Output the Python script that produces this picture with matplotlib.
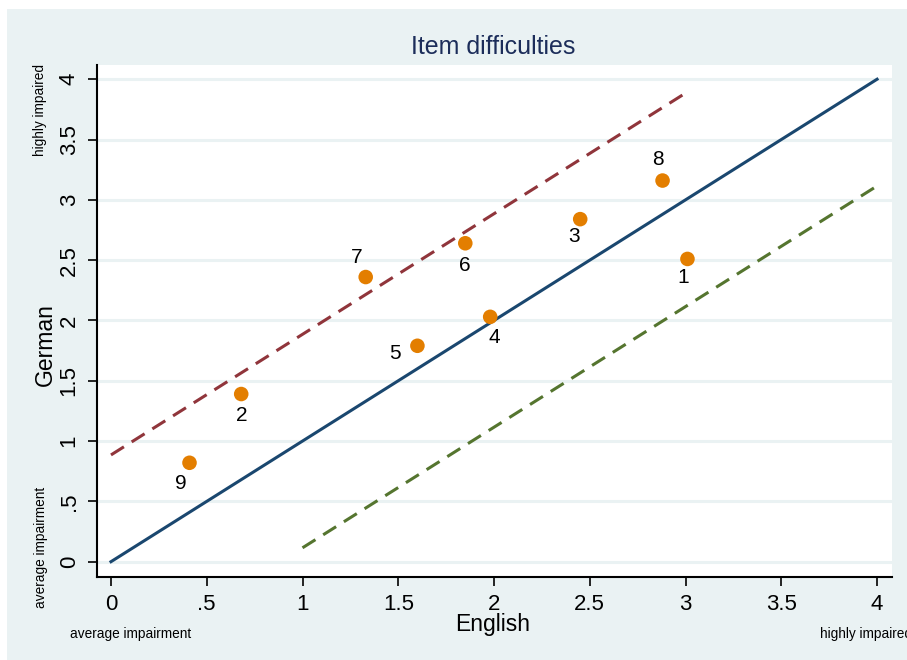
import numpy as np
import matplotlib.pyplot as plt
from matplotlib.patches import Rectangle

# Item difficulties: English vs German estimates
items = ["1", "2", "3", "4", "5", "6", "7", "8", "9"]
english = [3.01, 0.68, 2.45, 1.98, 1.60, 1.85, 1.33, 2.88, 0.41]
german = [2.51, 1.39, 2.84, 2.03, 1.79, 2.64, 2.36, 3.16, 0.82]

# identity line and +/- band
band = 0.885
diag_x = [0, 4]
upper_x = [0, 3]
lower_x = [1, 4]

ticks = np.arange(0, 4.01, 0.5)
tick_labels = ["0", ".5", "1", "1.5", "2", "2.5", "3", "3.5", "4"]

# label offsets (pixels) for each item marker
label_offsets = {
    "1": (-4, -19), "2": (1, -21), "3": (-6, -17), "4": (4, -21),
    "5": (-22, -8), "6": (0, -22), "7": (-9, 20), "8": (-5, 21),
    "9": (-9, -21),
}

plt.rcParams['font.family'] = ['Liberation Sans', 'DejaVu Sans']

W, H = 907, 660
fig = plt.figure(figsize=(W / 100, H / 100), dpi=100, facecolor='white')
bg = '#eaf2f3'
fig.add_artist(Rectangle((7 / W, 0), 1, 1 - 9 / H, transform=fig.transFigure,
                         facecolor=bg, edgecolor='none', zorder=-5))

ax = fig.add_axes([97 / W, 1 - 577 / H, (892 - 97) / W, (577 - 65) / H])
ax.set_zorder(1)
ax.set_facecolor('white')
ax.set_xlim(-0.073, 4.078)
ax.set_ylim(-0.127, 4.118)

for s in ['top', 'right']:
    ax.spines[s].set_visible(False)
for s in ['left', 'bottom']:
    ax.spines[s].set_color('black')
    ax.spines[s].set_linewidth(1.5)

ax.set_yticks(ticks)
ax.set_yticklabels(tick_labels, rotation=90, va='center', fontsize=16)
ax.set_xticks(ticks)
ax.set_xticklabels(tick_labels, fontsize=16)
ax.tick_params(axis='both', length=6.5, width=1.2, pad=6)
ax.yaxis.grid(True, color=bg, linewidth=2.2)
ax.set_axisbelow(True)

ax.plot(diag_x, diag_x, color='#1a476f', linewidth=2.2, zorder=2)
ax.plot(upper_x, [v + band for v in upper_x], color='#90353b', linewidth=2.2,
        linestyle=(0, (5, 3)), zorder=2)
ax.plot(lower_x, [v - band for v in lower_x], color='#55752f', linewidth=2.2,
        linestyle=(0, (5, 3)), zorder=2)

ax.scatter(english, german, s=110, color='#e37e00', edgecolors='none', zorder=3)
for lab, x, y in zip(items, english, german):
    dx, dy = label_offsets[lab]
    ax.annotate(lab, (x, y), xytext=(dx, dy), textcoords='offset pixels',
                ha='center', va='center', fontsize=15, color='black')

fig.text(493 / W, 1 - 47 / H, "Item difficulties", ha='center', va='center',
         fontsize=18, color='#1c2d5a')
fig.text(45 / W, 1 - 345 / H, "German", rotation=90, ha='center', va='center',
         fontsize=16.5)
fig.text(493 / W, 1 - 625 / H, "English", ha='center', va='center', fontsize=16.5)

# annotations for the ends of the scale
fig.text(40 / W, 1 - 110 / H, "highly impaired", rotation=90, ha='center',
         va='center', fontsize=9.8)
fig.text(41 / W, 1 - 547 / H, "average impairment", rotation=90, ha='center',
         va='center', fontsize=9.8)
fig.text(131 / W, 1 - 634 / H, "average impairment", ha='center', va='center',
         fontsize=9.8)
fig.text(820 / W, 1 - 634 / H, "highly impaired", ha='left', va='center',
         fontsize=9.8)

fig.savefig('out.png', dpi=100, facecolor=fig.get_facecolor())
